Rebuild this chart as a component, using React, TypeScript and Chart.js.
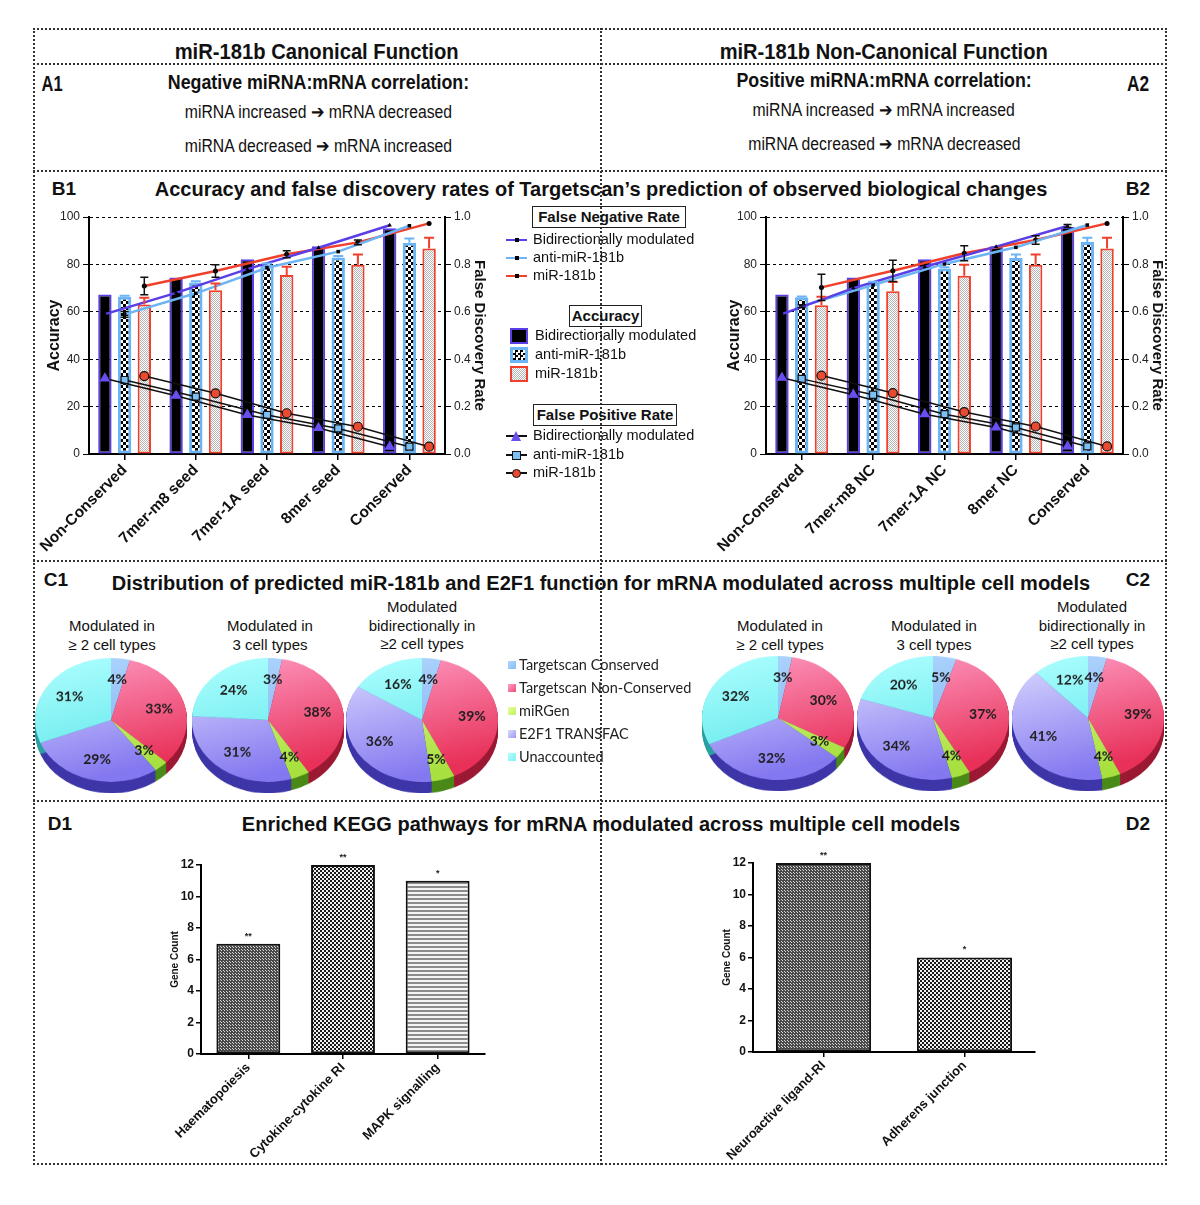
import React, { useEffect, useRef } from "react";
import { Chart, registerables } from "chart.js";

Chart.register(...registerables);

const SANS = '"Liberation Sans", Arial, Helvetica, sans-serif';
const PIEFONT = 'Lato, "Open Sans", "Noto Sans", sans-serif';

Chart.defaults.font.family = SANS;
Chart.defaults.color = "#111";

// ---------------- Panel B data ----------------
const seriesNames = ["Bidirectionally modulated", "anti-miR-181b", "miR-181b"];
const b1Categories = ["Non-Conserved", "7mer-m8 seed", "7mer-1A seed", "8mer seed", "Conserved"];
const b2Categories = ["Non-Conserved", "7mer-m8 NC", "7mer-1A NC", "8mer NC", "Conserved"];

// Accuracy (left axis, %)
const b1AccBidir = [67.3, 74.5, 82.2, 87.7, 95.3];
const b1AccAnti = [66.3, 72.4, 79.9, 82.9, 89.1];
const b1AccMir = [63.1, 69.1, 75.5, 79.9, 86.7];
const b1AccBidirErr = [0, 0, 0, 0, 0];
const b1AccAntiErr = [0.5, 0.5, 0.5, 0.6, 1.8];
const b1AccMirErr = [2.8, 2.8, 3.5, 4.3, 4.5];
// False negative rate (right axis)
const b1FnBidir = [0.59, 0.68, 0.78, 0.87, 0.965];
const b1FnAnti = [0.589, 0.678, 0.786, 0.854, 0.963];
const b1FnMir = [0.709, 0.772, 0.843, 0.893, 0.973];
const b1FnBidirErr = [0, 0, 0, 0, 0];
const b1FnAntiErr = [0.012, 0, 0, 0, 0];
const b1FnMirErr = [0.037, 0.026, 0.015, 0.01, 0];
// False positive rate (right axis)
const b1FpBidir = [0.319, 0.246, 0.165, 0.11, 0.031];
const b1FpAnti = [0.312, 0.242, 0.165, 0.108, 0.031];
const b1FpMir = [0.329, 0.256, 0.172, 0.115, 0.031];

const b2AccBidir = [67.3, 74.5, 82.2, 87.7, 95.8];
const b2AccAnti = [66.1, 72.2, 78.3, 82.7, 89.5];
const b2AccMir = [62.8, 68.7, 75.2, 79.9, 86.7];
const b2AccBidirErr = [0, 0, 0, 0, 0];
const b2AccAntiErr = [0.4, 0.5, 0.5, 1.5, 1.7];
const b2AccMirErr = [3.5, 3.9, 4.7, 4.3, 4.5];
const b2FnBidir = [0.59, 0.7, 0.79, 0.875, 0.962];
const b2FnAnti = [0.624, 0.713, 0.802, 0.872, 0.966];
const b2FnMir = [0.703, 0.773, 0.847, 0.903, 0.973];
const b2FnBidirErr = [0, 0, 0, 0, 0.006];
const b2FnAntiErr = [0.006, 0, 0, 0, 0];
const b2FnMirErr = [0.055, 0.045, 0.032, 0.018, 0];
const b2FpBidir = [0.322, 0.25, 0.168, 0.112, 0.032];
const b2FpAnti = [0.317, 0.25, 0.168, 0.112, 0.032];
const b2FpMir = [0.331, 0.257, 0.177, 0.116, 0.032];

// ---------------- Panel C data ----------------
const pieLabels = ["Targetscan Conserved", "Targetscan Non-Conserved", "miRGen", "E2F1 TRANSFAC", "Unaccounted"];
const c1Pie1 = [4, 33, 3, 29, 31];
const c1Pie2 = [3, 38, 4, 31, 24];
const c1Pie3 = [4, 39, 5, 36, 16];
const c2Pie1 = [3, 30, 3, 32, 32];
const c2Pie2 = [5, 37, 4, 34, 20];
const c2Pie3 = [4, 39, 4, 41, 12];

// ---------------- Panel D data ----------------
const d1Categories = ["Haematopoiesis", "Cytokine-cytokine RI", "MAPK signalling"];
const d1Counts = [7, 12, 11];
const d1Stars = ["**", "**", "*"];
const d2Categories = ["Neuroactive ligand-RI", "Adherens junction"];
const d2Counts = [12, 6];
const d2Stars = ["**", "*"];

// ---------------- helpers ----------------
function makePattern(w: number, h: number, draw: (x: CanvasRenderingContext2D) => void) {
  const c = document.createElement("canvas");
  c.width = w;
  c.height = h;
  const x = c.getContext("2d")!;
  draw(x);
  return x.createPattern(c, "repeat")!;
}
function checkerPattern(cell: number, a: string, b: string) {
  return makePattern(cell * 2, cell * 2, (x) => {
    x.fillStyle = b;
    x.fillRect(0, 0, cell * 2, cell * 2);
    x.fillStyle = a;
    x.fillRect(0, 0, cell, cell);
    x.fillRect(cell, cell, cell, cell);
  });
}
function stripePattern(band: number, a: string, b: string) {
  return makePattern(4, band * 2, (x) => {
    x.fillStyle = b;
    x.fillRect(0, 0, 4, band * 2);
    x.fillStyle = a;
    x.fillRect(0, 0, 4, band);
  });
}
function dotPattern() {
  return makePattern(3, 3, (x) => {
    x.fillStyle = "#4a4a4a";
    x.fillRect(0, 0, 3, 3);
    x.fillStyle = "#d8d8d8";
    x.fillRect(1, 1, 1, 1);
    x.fillRect(0, 0, 1, 1);
  });
}

const errorBarPlugin = {
  id: "errbars",
  afterDatasetsDraw(chart: any) {
    const ctx = chart.ctx;
    chart.data.datasets.forEach((ds: any, di: number) => {
      if (!ds.errs) return;
      const meta = chart.getDatasetMeta(di);
      const yScale = chart.scales[meta.yAxisID];
      meta.data.forEach((el: any, i: number) => {
        const e = ds.errs[i];
        if (!e) return;
        const raw = ds.data[i];
        const v = typeof raw === "number" ? raw : raw.y;
        const x = el.x;
        const yTop = yScale.getPixelForValue(v + e);
        const yBot = ds.errBoth ? yScale.getPixelForValue(v - e) : el.y;
        const cw = ds.errCap;
        ctx.save();
        ctx.strokeStyle = ds.errColor;
        ctx.lineWidth = ds.errWidth || 1.5;
        ctx.beginPath();
        ctx.moveTo(x, yBot);
        ctx.lineTo(x, yTop);
        ctx.moveTo(x - cw, yTop);
        ctx.lineTo(x + cw, yTop);
        if (ds.errBoth) {
          ctx.moveTo(x - cw, yBot);
          ctx.lineTo(x + cw, yBot);
        }
        ctx.stroke();
        ctx.restore();
      });
    });
  },
};

// ---------------- Text helpers ----------------
function Txt(props: {
  x: number;
  y: number;
  children: any;
  size?: number;
  bold?: boolean;
  font?: string;
  align?: "center" | "left" | "right";
  color?: string;
}) {
  const { x, y, children, size = 14, bold = false, font = SANS, align = "center", color = "#111" } = props;
  const w = 1000;
  const left = align === "center" ? x - w / 2 : align === "left" ? x : x - w;
  return (
    <div
      style={{
        position: "absolute",
        left,
        top: y - size * 0.6,
        width: w,
        textAlign: align,
        fontSize: size,
        lineHeight: `${size * 1.2}px`,
        fontWeight: bold ? 700 : 400,
        fontFamily: font,
        color,
        whiteSpace: "nowrap",
      }}
    >
      {children}
    </div>
  );
}

let measureCtx: CanvasRenderingContext2D | null = null;
function measure(text: string, font: string) {
  if (!measureCtx) measureCtx = document.createElement("canvas").getContext("2d");
  measureCtx!.font = font;
  return measureCtx!.measureText(text).width;
}

// condensed text: Liberation Sans squeezed horizontally to the target width
function FitText(props: { x: number; y: number; width: number; size: number; bold?: boolean; children: string }) {
  const { x, y, width, size, bold = false, children } = props;
  const w = measure(children, `${bold ? "bold " : ""}${size}px ${SANS}`) || width;
  const k = width / w;
  return (
    <div
      style={{
        position: "absolute",
        left: x - w / 2,
        top: y - size * 0.6,
        width: w,
        textAlign: "center",
        fontSize: size,
        lineHeight: `${size * 1.2}px`,
        fontWeight: bold ? 700 : 400,
        fontFamily: SANS,
        color: "#111",
        whiteSpace: "nowrap",
        transform: `scaleX(${k})`,
        transformOrigin: "center",
      }}
    >
      {children}
    </div>
  );
}

// ---------------- Accuracy chart (B) ----------------
type AccProps = {
  left: number;
  top: number;
  width: number;
  height: number;
  categories: string[];
  acc: number[][];
  accErr: number[][];
  fnr: number[][];
  fnrErr: number[][];
  fpr: number[][];
  yW: number;
  y1W: number;
  xH: number;
  padTop: number;
  yTitlePad: number;
  y1TitlePad: number;
};

function AccuracyChart(p: AccProps) {
  const ref = useRef<HTMLCanvasElement>(null);
  useEffect(() => {
    const antiPat = checkerPattern(3, "#000", "#fff");
    const mirPat = checkerPattern(1, "#ffffff", "#b4b4b4");
    const cp = 0.83; // share of a category taken by the group of three bars
    const step = cp / 3;
    const offs = [-step, 0, step];
    const barBg: any[] = ["#000", antiPat, mirPat];
    const barBorder = ["#5a3ee6", "#6cb4f4", "#f0402c"];
    const barBW = [2, 3, 2];
    const fnColors = ["#5a3ee6", "#6cb4f4", "#f0402c"];
    const styles = ["triangle", "rect", "circle"];
    const fpFill = ["#6a4ef0", "#7cc0f4", "#ea4a30"];
    const datasets: any[] = [];
    p.acc.forEach((vals, k) =>
      datasets.push({
        type: "bar",
        label: seriesNames[k],
        data: vals.map((v, i) => ({ x: i + offs[k], y: v })),
        backgroundColor: barBg[k],
        borderColor: barBorder[k],
        borderWidth: barBW[k],
        borderSkipped: false,
        grouped: false,
        categoryPercentage: 1,
        barPercentage: 0.68,
        yAxisID: "y",
        order: 3,
        errs: p.accErr[k],
        errColor: barBorder[k],
        errCap: 5,
        errWidth: 2,
      })
    );
    p.fpr.forEach((vals, k) =>
      datasets.push({
        type: "line",
        label: "FPR " + seriesNames[k],
        data: vals.map((v, i) => ({ x: i + offs[k], y: v })),
        borderColor: "#111",
        borderWidth: 1.5,
        pointStyle: styles[k],
        pointRadius: k === 2 ? 4.5 : 5,
        pointBackgroundColor: fpFill[k],
        pointBorderColor: k === 0 ? fpFill[0] : "#111",
        pointBorderWidth: 1.2,
        yAxisID: "y1",
        order: 2,
      })
    );
    p.fnr.forEach((vals, k) =>
      datasets.push({
        type: "line",
        label: "FNR " + seriesNames[k],
        data: vals.map((v, i) => ({ x: i + offs[k], y: v })),
        borderColor: fnColors[k],
        borderWidth: 2.5,
        pointStyle: styles[k],
        pointRadius: 2.5,
        pointBackgroundColor: "#000",
        pointBorderColor: "#000",
        pointBorderWidth: 0,
        yAxisID: "y1",
        order: 1,
        errs: p.fnrErr[k],
        errColor: "#111",
        errCap: 4,
        errBoth: true,
        errWidth: 1.5,
      })
    );
    const chart = new Chart(ref.current!, {
      type: "bar",
      data: { datasets },
      options: {
        responsive: false,
        animation: false,
        layout: { padding: { top: p.padTop, left: 0, right: 0, bottom: 0 } },
        plugins: { legend: { display: false }, tooltip: { enabled: false } },
        scales: {
          x: {
            type: "linear",
            position: "bottom",
            offset: false,
            min: -0.5,
            max: p.categories.length - 0.5,
            afterBuildTicks: (s: any) => {
              s.ticks = p.categories.map((_, i) => ({ value: i }));
            },
            grid: { drawOnChartArea: false, offset: false, color: "#000", lineWidth: 1.5, tickLength: 6 },
            border: { color: "#000", width: 2 },
            ticks: {
              minRotation: 45,
              maxRotation: 45,
              autoSkip: false,
              callback: (v: any) => p.categories[Math.round(Number(v))] ?? "",
              font: { size: 15.5, weight: "bold" },
              color: "#111",
              padding: 1,
            },
            afterFit: (s: any) => {
              s.height = p.xH;
              s.paddingLeft = 0;
              s.paddingRight = 0;
            },
          },
          y: {
            position: "left",
            min: 0,
            max: 100,
            ticks: { stepSize: 20, font: { size: 12 }, color: "#222", padding: 3 },
            grid: { color: "#000", lineWidth: 1, tickLength: 6 },
            border: { color: "#000", width: 2, dash: [3, 3] },
            title: {
              display: true,
              text: "Accuracy",
              font: { size: 16, weight: "bold" },
              color: "#111",
              padding: { top: p.yTitlePad, bottom: 0 },
            },
            afterFit: (s: any) => {
              s.width = p.yW;
            },
          },
          y1: {
            position: "right",
            min: 0,
            max: 1,
            ticks: {
              stepSize: 0.2,
              callback: (v: any) => Number(v).toFixed(1),
              font: { size: 12 },
              color: "#222",
              padding: 3,
            },
            grid: { drawOnChartArea: false, color: "#000", tickLength: 6 },
            border: { color: "#000", width: 2 },
            title: {
              display: true,
              text: "False Discovery Rate",
              font: { size: 15, weight: "bold" },
              color: "#111",
              padding: { top: p.y1TitlePad, bottom: 0 },
            },
            afterFit: (s: any) => {
              s.width = p.y1W;
            },
          },
        } as any,
      },
      plugins: [errorBarPlugin],
    });
    return () => chart.destroy();
  }, []);
  return (
    <canvas
      ref={ref}
      width={p.width}
      height={p.height}
      style={{ position: "absolute", left: p.left, top: p.top, width: p.width, height: p.height }}
    />
  );
}

// ---------------- Pie chart (C) ----------------
const SQ = 0.815;
const pieLight = ["#b4d8ff", "#ffa0c8", "#e4ff98", "#dcdcff", "#b0ffff"];
const pieDark = ["#78aef0", "#e83058", "#a8e040", "#8478f0", "#5ee6ea"];
const pieSide = ["#3a5ab0", "#9c1a34", "#4a8a18", "#3e36a8", "#2aa0a4"];
const pieLegend = ["#84bcf2", "#f04c72", "#c4f060", "#9c98f2", "#84f0f0"];

function Pie3D(props: { cx: number; top: number; size: number; values: number[] }) {
  const { cx, top, size, values } = props;
  const ref = useRef<HTMLCanvasElement>(null);
  const depth = 14;
  useEffect(() => {
    const depthPlugin = {
      id: "depth",
      beforeDatasetsDraw(chart: any) {
        const ctx = chart.ctx;
        const meta = chart.getDatasetMeta(0);
        meta.data.forEach((arc: any, i: number) => {
          const q = arc.getProps(["x", "y", "startAngle", "endAngle", "outerRadius"], true);
          ctx.save();
          ctx.fillStyle = pieSide[i];
          for (let d = depth; d >= 1; d--) {
            ctx.beginPath();
            ctx.moveTo(q.x, q.y + d);
            ctx.arc(q.x, q.y + d, q.outerRadius, q.startAngle, q.endAngle);
            ctx.closePath();
            ctx.fill();
          }
          ctx.restore();
        });
      },
    };
    const labelPlugin = {
      id: "pielabels",
      afterDatasetsDraw(chart: any) {
        const ctx = chart.ctx;
        const meta = chart.getDatasetMeta(0);
        const data = chart.data.datasets[0].data;
        meta.data.forEach((arc: any, i: number) => {
          const q = arc.getProps(["x", "y", "startAngle", "endAngle", "outerRadius"], true);
          const mid = (q.startAngle + q.endAngle) / 2;
          const rr = q.outerRadius * 0.66;
          ctx.save();
          ctx.translate(q.x + Math.cos(mid) * rr, q.y + Math.sin(mid) * rr);
          ctx.scale(1, 1 / SQ);
          ctx.font = `bold 14px ${PIEFONT}`;
          ctx.fillStyle = "#1e1e1e";
          ctx.textAlign = "center";
          ctx.textBaseline = "middle";
          ctx.fillText(data[i] + "%", 0, 0);
          ctx.restore();
        });
      },
    };
    const chart = new Chart(ref.current!, {
      type: "pie",
      data: {
        labels: pieLabels,
        datasets: [
          {
            data: values,
            borderWidth: 0,
            backgroundColor: (c: any) => {
              const ch = c.chart;
              const area = ch.chartArea;
              if (!area) return pieDark[c.dataIndex];
              const g = ch.ctx.createLinearGradient(area.left, area.top, area.left + area.width * 0.3, area.bottom);
              g.addColorStop(0, pieLight[c.dataIndex]);
              g.addColorStop(1, pieDark[c.dataIndex]);
              return g;
            },
          },
        ],
      },
      options: {
        responsive: false,
        animation: false,
        rotation: 0,
        layout: { padding: { bottom: depth } },
        plugins: { legend: { display: false }, tooltip: { enabled: false } },
      },
      plugins: [depthPlugin, labelPlugin],
    });
    return () => chart.destroy();
  }, []);
  return (
    <div
      style={{
        position: "absolute",
        left: cx - size / 2,
        top,
        width: size,
        height: size + depth,
        transform: `scaleY(${SQ})`,
        transformOrigin: "top left",
      }}
    >
      <canvas ref={ref} width={size} height={size + depth} style={{ width: size, height: size + depth }} />
    </div>
  );
}

// ---------------- KEGG chart (D) ----------------
type KeggProps = {
  left: number;
  top: number;
  width: number;
  height: number;
  categories: string[];
  values: number[];
  stars: string[];
  patterns: string[];
  yW: number;
  xH: number;
  padTop: number;
  padRight: number;
  titlePad: number;
};

function KeggChart(p: KeggProps) {
  const ref = useRef<HTMLCanvasElement>(null);
  useEffect(() => {
    const pats: Record<string, any> = {
      dots: dotPattern(),
      checker: checkerPattern(2, "#1a1a1a", "#f0f0f0"),
      stripes: stripePattern(2, "#8c8c8c", "#f4f4f4"),
    };
    const starPlugin = {
      id: "stars",
      afterDatasetsDraw(chart: any) {
        const ctx = chart.ctx;
        const meta = chart.getDatasetMeta(0);
        ctx.save();
        ctx.font = `bold 9px ${SANS}`;
        ctx.fillStyle = "#222";
        ctx.textAlign = "center";
        ctx.textBaseline = "bottom";
        meta.data.forEach((el: any, i: number) => ctx.fillText(p.stars[i], el.x, el.y - 3));
        ctx.restore();
      },
    };
    const chart = new Chart(ref.current!, {
      type: "bar",
      data: {
        labels: p.categories,
        datasets: [
          {
            label: "Gene Count",
            data: p.values,
            backgroundColor: p.patterns.map((k) => pats[k]),
            borderColor: "#111",
            borderWidth: 2,
            borderSkipped: false,
            categoryPercentage: 1,
            barPercentage: 0.675,
          },
        ],
      },
      options: {
        responsive: false,
        animation: false,
        layout: { padding: { top: p.padTop, right: p.padRight, left: 0, bottom: 0 } },
        plugins: { legend: { display: false }, tooltip: { enabled: false } },
        scales: {
          x: {
            grid: { drawOnChartArea: false, offset: false, color: "#000", lineWidth: 1.5, tickLength: 5 },
            border: { color: "#000", width: 2 },
            ticks: {
              minRotation: 45,
              maxRotation: 45,
              autoSkip: false,
              font: { size: 13, weight: "bold" },
              color: "#111",
              padding: 1,
            },
            afterFit: (s: any) => {
              s.height = p.xH;
            },
          },
          y: {
            min: 0,
            max: 12,
            ticks: { stepSize: 2, font: { size: 12, weight: "bold" }, color: "#111", padding: 2 },
            grid: { drawOnChartArea: false, color: "#000", lineWidth: 1.5, tickLength: 5 },
            border: { color: "#000", width: 2 },
            title: {
              display: true,
              text: "Gene Count",
              font: { size: 10, weight: "bold" },
              color: "#111",
              padding: { top: p.titlePad, bottom: 0 },
            },
            afterFit: (s: any) => {
              s.width = p.yW;
            },
          },
        } as any,
      },
      plugins: [starPlugin],
    });
    return () => chart.destroy();
  }, []);
  return (
    <canvas
      ref={ref}
      width={p.width}
      height={p.height}
      style={{ position: "absolute", left: p.left, top: p.top, width: p.width, height: p.height }}
    />
  );
}

// ---------------- Legends ----------------
function LineSwatch({ y, color }: { y: number; color: string }) {
  return (
    <>
      <div style={{ position: "absolute", left: 506, top: y - 1, width: 21, height: 2, background: color }} />
      <div style={{ position: "absolute", left: 515, top: y - 2, width: 4, height: 4, background: "#000" }} />
    </>
  );
}

function FpSwatch({ y, kind }: { y: number; kind: number }) {
  const base: any = { position: "absolute", left: 511, top: y - 5, width: 10, height: 10 };
  let mk: any;
  if (kind === 0) mk = { ...base, background: "#6a4ef0", clipPath: "polygon(50% 0, 100% 100%, 0 100%)" };
  else if (kind === 1)
    mk = { ...base, left: 512, top: y - 4, width: 7, height: 7, background: "#7cc0f4", border: "1.5px solid #111" };
  else
    mk = {
      ...base,
      left: 512,
      top: y - 4,
      width: 7,
      height: 7,
      background: "#ea4a30",
      border: "1.5px solid #111",
      borderRadius: "50%",
    };
  return (
    <>
      <div style={{ position: "absolute", left: 506, top: y - 1, width: 21, height: 2, background: "#111" }} />
      <div style={mk} />
    </>
  );
}

function BarSwatch({ y, kind }: { y: number; kind: number }) {
  const s: any = { position: "absolute", left: 510, top: y - 8, width: 18, height: 16, boxSizing: "border-box" };
  if (kind === 0) Object.assign(s, { background: "#000", border: "2px solid #5a3ee6" });
  if (kind === 1)
    Object.assign(s, {
      background: "repeating-conic-gradient(#000 0 25%, #fff 0 50%)",
      backgroundSize: "5px 5px",
      border: "3px solid #6cb4f4",
    });
  if (kind === 2)
    Object.assign(s, {
      background: "repeating-conic-gradient(#b4b4b4 0 25%, #fff 0 50%)",
      backgroundSize: "2px 2px",
      border: "2px solid #f0402c",
    });
  return <div style={s} />;
}

function BoxTitle({ left, top, width, text }: { left: number; top: number; width: number; text: string }) {
  return (
    <div
      style={{
        position: "absolute",
        left,
        top,
        width,
        height: 22,
        boxSizing: "border-box",
        border: "1.5px solid #222",
        fontFamily: SANS,
        fontWeight: 700,
        fontSize: 15,
        lineHeight: "19px",
        textAlign: "center",
        color: "#111",
        whiteSpace: "nowrap",
      }}
    >
      {text}
    </div>
  );
}

function BLegend() {
  const fnY = [240, 258, 276];
  const accY = [336, 355, 374];
  const fpY = [436, 455, 473];
  const fnColors = ["#5a3ee6", "#6cb4f4", "#f0402c"];
  return (
    <>
      <BoxTitle left={532} top={206} width={154} text="False Negative Rate" />
      {fnY.map((y, k) => (
        <React.Fragment key={"fn" + k}>
          <LineSwatch y={y} color={fnColors[k]} />
          <Txt x={533} y={y} size={14.5} align="left">
            {seriesNames[k]}
          </Txt>
        </React.Fragment>
      ))}
      <BoxTitle left={569} top={305} width={73} text="Accuracy" />
      {accY.map((y, k) => (
        <React.Fragment key={"acc" + k}>
          <BarSwatch y={y} kind={k} />
          <Txt x={535} y={y} size={14.5} align="left">
            {seriesNames[k]}
          </Txt>
        </React.Fragment>
      ))}
      <BoxTitle left={533} top={404} width={144} text="False Positive Rate" />
      {fpY.map((y, k) => (
        <React.Fragment key={"fp" + k}>
          <FpSwatch y={y} kind={k} />
          <Txt x={533} y={y} size={14.5} align="left">
            {seriesNames[k]}
          </Txt>
        </React.Fragment>
      ))}
    </>
  );
}

function PieLegend() {
  const ys = [665, 688, 711, 734, 757];
  return (
    <>
      {ys.map((y, i) => (
        <React.Fragment key={i}>
          <div
            style={{
              position: "absolute",
              left: 508,
              top: y - 4,
              width: 8,
              height: 8,
              background: `linear-gradient(135deg, ${pieLight[i]}, ${pieLegend[i]})`,
            }}
          />
          <Txt x={519} y={y} size={14.5} font={PIEFONT} align="left" color="#222">
            {pieLabels[i]}
          </Txt>
        </React.Fragment>
      ))}
    </>
  );
}

function PieTitle({ x, lines, y0 }: { x: number; lines: string[]; y0: number }) {
  return (
    <>
      {lines.map((l, i) => (
        <Txt key={i} x={x} y={y0 + i * 18.5} size={15} color="#111">
          {l}
        </Txt>
      ))}
    </>
  );
}

// ---------------- Layout ----------------
const DOT = "2px dotted #333";

export default function App() {
  const hLines = [63, 170, 560, 800];
  return (
    <div
      style={{
        position: "absolute",
        left: 0,
        top: 0,
        width: 1200,
        height: 1205,
        background: "#fff",
        overflow: "hidden",
        fontFamily: SANS,
      }}
    >
      {/* frame */}
      <div
        style={{
          position: "absolute",
          left: 33,
          top: 28,
          width: 1134,
          height: 1137,
          border: DOT,
          boxSizing: "border-box",
        }}
      />
      {hLines.map((y) => (
        <div key={y} style={{ position: "absolute", left: 33, top: y, width: 1134, height: 0, borderTop: DOT }} />
      ))}
      <div style={{ position: "absolute", left: 600, top: 28, width: 0, height: 1137, borderLeft: DOT }} />

      {/* header */}
      <FitText x={317} y={52} width={284} size={22} bold>
        miR-181b Canonical Function
      </FitText>
      <FitText x={884} y={52} width={328} size={22} bold>
        miR-181b Non-Canonical Function
      </FitText>

      {/* A */}
      <FitText x={52} y={84} width={21} size={22} bold>
        A1
      </FitText>
      <FitText x={1138} y={84} width={22} size={22} bold>
        A2
      </FitText>
      <FitText x={318} y={82} width={302} size={20} bold>
        Negative miRNA:mRNA correlation:
      </FitText>
      <FitText x={318} y={112} width={269} size={17.5}>
        miRNA increased ➔ mRNA decreased
      </FitText>
      <FitText x={318} y={146} width={269} size={17.5}>
        miRNA decreased ➔ mRNA increased
      </FitText>
      <FitText x={884} y={80} width={296} size={20} bold>
        Positive miRNA:mRNA correlation:
      </FitText>
      <FitText x={884} y={110} width={264} size={17.5}>
        miRNA increased ➔ mRNA increased
      </FitText>
      <FitText x={884} y={144} width={274} size={17.5}>
        miRNA decreased ➔ mRNA decreased
      </FitText>

      {/* B */}
      <Txt x={64} y={189} size={19} bold>
        B1
      </Txt>
      <Txt x={1138} y={189} size={19} bold>
        B2
      </Txt>
      <Txt x={601} y={189} size={20} bold>
        Accuracy and false discovery rates of Targetscan’s prediction of observed biological changes
      </Txt>
      <AccuracyChart
        left={30}
        top={205}
        width={480}
        height={355}
        categories={b1Categories}
        acc={[b1AccBidir, b1AccAnti, b1AccMir]}
        accErr={[b1AccBidirErr, b1AccAntiErr, b1AccMirErr]}
        fnr={[b1FnBidir, b1FnAnti, b1FnMir]}
        fnrErr={[b1FnBidirErr, b1FnAntiErr, b1FnMirErr]}
        fpr={[b1FpBidir, b1FpAnti, b1FpMir]}
        yW={59}
        y1W={65}
        xH={106}
        padTop={12}
        yTitlePad={15}
        y1TitlePad={22}
      />
      <AccuracyChart
        left={700}
        top={205}
        width={470}
        height={355}
        categories={b2Categories}
        acc={[b2AccBidir, b2AccAnti, b2AccMir]}
        accErr={[b2AccBidirErr, b2AccAntiErr, b2AccMirErr]}
        fnr={[b2FnBidir, b2FnAnti, b2FnMir]}
        fnrErr={[b2FnBidirErr, b2FnAntiErr, b2FnMirErr]}
        fpr={[b2FpBidir, b2FpAnti, b2FpMir]}
        yW={66}
        y1W={47}
        xH={106}
        padTop={12}
        yTitlePad={25}
        y1TitlePad={4}
      />
      <BLegend />

      {/* C */}
      <Txt x={56} y={580} size={19} bold>
        C1
      </Txt>
      <Txt x={1138} y={580} size={19} bold>
        C2
      </Txt>
      <Txt x={601} y={583} size={20} bold>
        Distribution of predicted miR-181b and E2F1 function for mRNA modulated across multiple cell models
      </Txt>
      <PieTitle x={112} y0={626} lines={["Modulated in", "≥ 2 cell types"]} />
      <PieTitle x={270} y0={626} lines={["Modulated in", "3 cell types"]} />
      <PieTitle x={422} y0={607} lines={["Modulated", "bidirectionally in", "≥2 cell types"]} />
      <PieTitle x={780} y0={626} lines={["Modulated in", "≥ 2 cell types"]} />
      <PieTitle x={934} y0={626} lines={["Modulated in", "3 cell types"]} />
      <PieTitle x={1092} y0={607} lines={["Modulated", "bidirectionally in", "≥2 cell types"]} />
      <Pie3D cx={111} top={658} size={152} values={c1Pie1} />
      <Pie3D cx={268} top={658} size={152} values={c1Pie2} />
      <Pie3D cx={422} top={658} size={152} values={c1Pie3} />
      <Pie3D cx={778} top={656} size={152} values={c2Pie1} />
      <Pie3D cx={933} top={656} size={152} values={c2Pie2} />
      <Pie3D cx={1088} top={656} size={152} values={c2Pie3} />
      <PieLegend />

      {/* D */}
      <Txt x={60} y={824} size={19} bold>
        D1
      </Txt>
      <Txt x={1138} y={824} size={19} bold>
        D2
      </Txt>
      <Txt x={601} y={824} size={20} bold>
        Enriched KEGG pathways for mRNA modulated across multiple cell models
      </Txt>
      <KeggChart
        left={160}
        top={850}
        width={340}
        height={310}
        categories={d1Categories}
        values={d1Counts}
        stars={d1Stars}
        patterns={["dots", "checker", "stripes"]}
        yW={41}
        xH={106}
        padTop={15}
        padRight={15}
        titlePad={9}
      />
      <KeggChart
        left={700}
        top={848}
        width={350}
        height={312}
        categories={d2Categories}
        values={d2Counts}
        stars={d2Stars}
        patterns={["dots", "checker"]}
        yW={53}
        xH={108}
        padTop={15}
        padRight={15}
        titlePad={21}
      />
    </div>
  );
}
